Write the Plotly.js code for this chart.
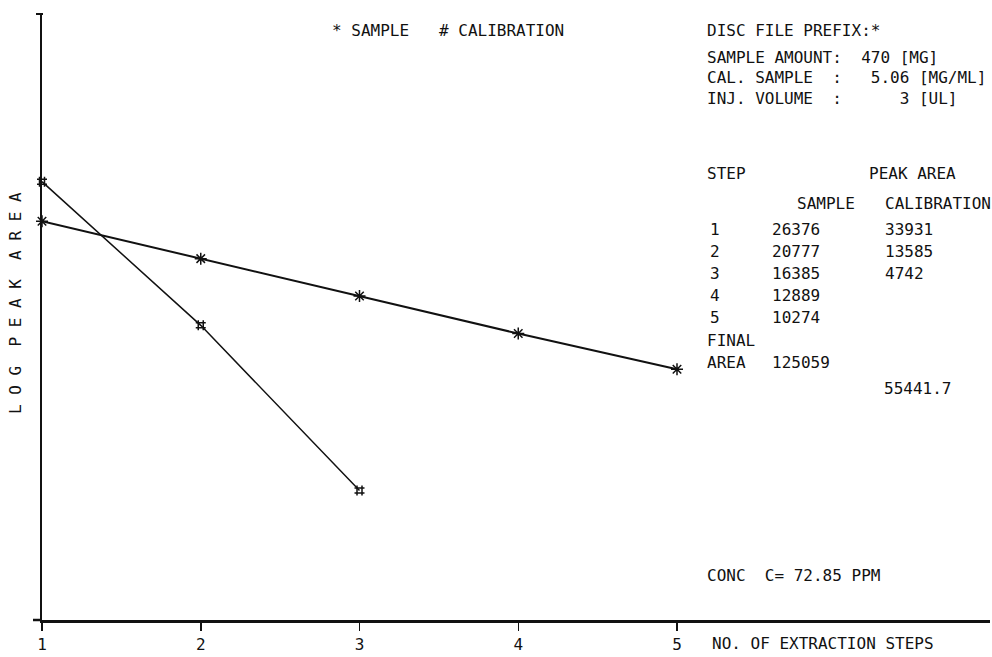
<!DOCTYPE html>
<html>
<head>
<meta charset="utf-8">
<script src="https://cdn.plot.ly/plotly-3.0.1.min.js"></script>
<style>
  html, body { margin: 0; padding: 0; background: #fff; }
  #chart { width: 992px; height: 657px; }
</style>
</head>
<body>
<div id="chart"></div>
<script>
// Extraction steps and peak areas
const steps = [1, 2, 3, 4, 5];
const sampleArea = [26376, 20777, 16385, 12889, 10274];
const calSteps = [1, 2, 3];
const calArea = [33931, 13585, 4742];
const tickLabels = ['1', '2', '3', '4', '5'];

// Report values
const sampleAmount = '470';
const calSample = '5.06';
const injVolume = '3';
const finalSampleArea = '125059';
const finalCalArea = '55441.7';
const concentration = '72.85';

const FONT = 'DejaVu Sans Mono, Liberation Mono, monospace';
const INK = '#111';

// plot frame in pixels
const L = 42, R = 2, T = 14, B = 37, W = 992, H = 657;
const PW = W - L - R, PH = H - T - B;
const px = x => (x - L) / PW;
const py = y => (H - B - y) / PH;
const nb = s => s.replace(/ /g, '\u00a0');

function txt(x, y, s, opts) {
  return Object.assign({
    xref: 'paper', yref: 'paper', x: px(x), y: py(y),
    xanchor: 'left', yanchor: 'middle', showarrow: false,
    text: nb(s), font: {family: FONT, size: 16, color: INK}
  }, opts || {});
}

const annotations = [
  txt(330, 31, '* SAMPLE'),
  txt(437, 31, '# CALIBRATION'),
  txt(705, 31, 'DISC FILE PREFIX:*'),
  txt(705, 58, 'SAMPLE AMOUNT:  ' + sampleAmount + ' [MG]'),
  txt(705, 78, 'CAL. SAMPLE  :   ' + calSample + ' [MG/ML]'),
  txt(705, 98, 'INJ. VOLUME  :      ' + injVolume + ' [UL]'),
  txt(705, 173, 'STEP'),
  txt(867, 173, 'PEAK AREA'),
  txt(795, 203, 'SAMPLE'),
  txt(883, 203, 'CALIBRATION'),
  txt(705, 340, 'FINAL'),
  txt(705, 362, 'AREA'),
  txt(770, 362, finalSampleArea),
  txt(882, 388, finalCalArea),
  txt(705, 575, 'CONC  C= ' + concentration + ' PPM'),
  txt(710, 643, 'NO. OF EXTRACTION STEPS'),
  {
    xref: 'paper', yref: 'paper', x: px(15), y: py(303),
    xanchor: 'center', yanchor: 'middle', showarrow: false, textangle: -90,
    text: nb('L O G  P E A K  A R E A'),
    font: {family: FONT, size: 16, color: INK}
  }
];

// step table rows
const rowY = [229, 251, 273, 295, 317];
steps.forEach((s, i) => {
  annotations.push(txt(708, rowY[i], String(s)));
  annotations.push(txt(770, rowY[i], String(sampleArea[i])));
  if (i < calArea.length) annotations.push(txt(883, rowY[i], String(calArea[i])));
});

const traces = [
  {
    x: steps, y: sampleArea, type: 'scatter', mode: 'lines+markers',
    name: 'SAMPLE', cliponaxis: false,
    line: {color: INK, width: 2},
    marker: {symbol: 'asterisk-open', size: 10, color: INK, line: {color: INK, width: 1.5}}
  },
  {
    x: calSteps, y: calArea, type: 'scatter', mode: 'lines+markers',
    name: 'CALIBRATION', cliponaxis: false,
    line: {color: INK, width: 1.5},
    marker: {symbol: 'hash-open', size: 10, color: INK, line: {color: INK, width: 1.5}}
  }
];

const layout = {
  width: W, height: H,
  margin: {l: L, r: R, t: T, b: B, pad: 0},
  paper_bgcolor: '#fff', plot_bgcolor: '#fff',
  showlegend: false,
  xaxis: {
    range: [1, 1 + PW / 158.75],
    tickvals: steps, ticktext: tickLabels,
    ticks: 'outside', ticklen: 8, tickwidth: 1.5, tickcolor: INK,
    showline: true, linecolor: INK, linewidth: 2.5,
    showgrid: false, zeroline: false,
    tickfont: {family: FONT, size: 16, color: INK}
  },
  yaxis: {
    type: 'log', range: [3.3177, 4.9945],
    showticklabels: false, ticks: '',
    showline: true, linecolor: INK, linewidth: 2,
    showgrid: false, zeroline: false
  },
  shapes: [
    // axis stub left of the origin
    {type: 'line', xref: 'paper', yref: 'paper', x0: px(33), x1: px(42), y0: 0, y1: 0,
     line: {color: INK, width: 2.5}},
    // end mark at the top of the vertical axis
    {type: 'line', xref: 'paper', yref: 'paper', x0: px(36), x1: px(43), y0: 1, y1: 1,
     line: {color: INK, width: 2}}
  ],
  annotations: annotations
};

Plotly.newPlot('chart', traces, layout, {staticPlot: true, displayModeBar: false});
</script>
</body>
</html>
